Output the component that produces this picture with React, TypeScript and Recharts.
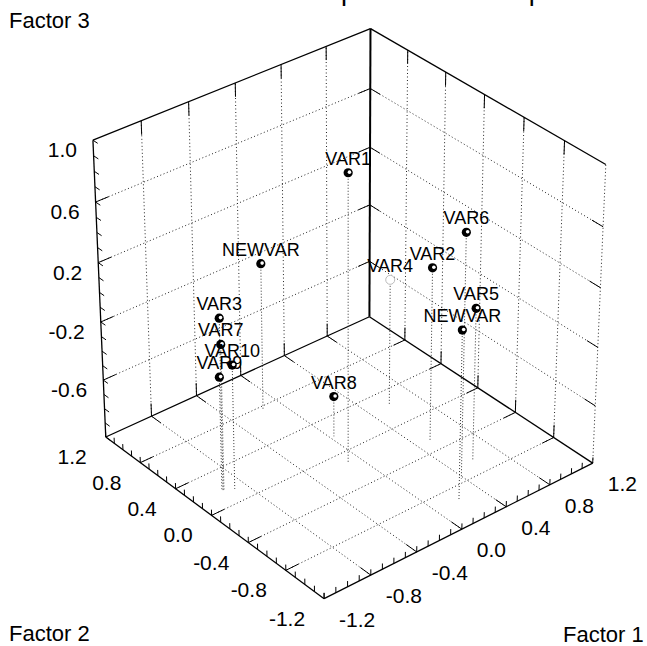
import React from 'react';
import { ScatterChart, Scatter, XAxis, YAxis, ReferenceLine } from 'recharts';

const TITLE = 'Rotation of Components in 3D space';

// loadings of each variable on the three factors
const variables = ['VAR1', 'VAR2', 'VAR3', 'VAR4', 'VAR5', 'VAR6', 'VAR7', 'VAR8', 'VAR9', 'VAR10', 'NEWVAR', 'NEWVAR'];
const factor1 = [-0.09, 0.51, -0.96, 0.57, 0.59, 0.38, -0.96, 0.03, -0.97, -0.89, -0.14, 0.21];
const factor2 = [-0.11, -0.28, 0.18, 0.23, -0.64, -0.76, 0.17, 0.19, 0.18, 0.14, 0.77, -0.93];
const factor3 = [0.94, 0.19, 0.17, -0.12, 0.04, 0.66, 0.0, -0.72, -0.22, -0.15, 0.01, 0.15];
const faded = ['VAR4'];

// axis ranges, labelled ticks and grid positions
const F1_RANGE = [-1.2, 1.2];
const F2_RANGE = [-1.2, 1.2];
const F3_RANGE = [-1.0, 1.0];
const F1_TICKS = [-1.2, -0.8, -0.4, 0.0, 0.4, 0.8, 1.2];
const F2_TICKS = [-1.2, -0.8, -0.4, 0.0, 0.4, 0.8, 1.2];
const F3_TICKS = [-0.6, -0.2, 0.2, 0.6, 1.0];
const F1_GRID = [-0.8, -0.4, 0.0, 0.4, 0.8];
const F2_GRID = [-0.8, -0.4, 0.0, 0.4, 0.8];
const F3_GRID = [-0.6, -0.2, 0.2, 0.6];
const MINOR_STEP = 0.1;

const W = 647;
const H = 646;
const FONT = '"Liberation Sans", Arial, sans-serif';

// camera: turned about the vertical axis, tilted down, mild perspective
const VIEW = { azimuth: 50.3, elevation: 33, distance: 21, focal: 3725, cx: 348, cy: 305 };
const rad = Math.PI / 180;
const sa = Math.sin(VIEW.azimuth * rad);
const ca = Math.cos(VIEW.azimuth * rad);
const se = Math.sin(VIEW.elevation * rad);
const ce = Math.cos(VIEW.elevation * rad);

const norm = (t: number, r: number[]) => ((t - r[0]) / (r[1] - r[0])) * 2 - 1;

type P3 = [number, number, number];

function project(x: number, y: number, z: number) {
  const u = norm(x, F1_RANGE);
  const v = norm(y, F2_RANGE);
  const w = norm(z, F3_RANGE);
  const across = sa * u - ca * v;
  const depth = ca * u + sa * v;
  const up = depth * se + w * ce;
  const dist = VIEW.distance + depth * ce - w * se;
  return { px: across / dist, py: up / dist };
}

// view-plane window that fills the chart area
const X_DOMAIN = [-VIEW.cx / VIEW.focal, (W - VIEW.cx) / VIEW.focal];
const Y_DOMAIN = [(VIEW.cy - H) / VIEW.focal, VIEW.cy / VIEW.focal];

const [x0, x1] = F1_RANGE;
const [y0, y1] = F2_RANGE;
const [z0, z1] = F3_RANGE;

type Seg = { a: P3; b: P3; kind: 'edge' | 'back' | 'grid' | 'tick' | 'drop' };
const segments: Seg[] = [];

const lerp = (a: P3, b: P3, t: number): P3 => [
  a[0] + (b[0] - a[0]) * t,
  a[1] + (b[1] - a[1]) * t,
  a[2] + (b[2] - a[2]) * t,
];

// dotted grid line with short solid stubs where it meets the box
function gridLine(a: P3, b: P3) {
  segments.push({ a, b, kind: 'grid' });
  segments.push({ a, b: lerp(a, b, 0.045), kind: 'tick' });
  segments.push({ a: b, b: lerp(b, a, 0.045), kind: 'tick' });
}

// floor
F1_GRID.forEach((g) => gridLine([g, y0, z0], [g, y1, z0]));
F2_GRID.forEach((g) => gridLine([x0, g, z0], [x1, g, z0]));
// back-left wall (Factor 2 at max)
F1_GRID.forEach((g) => gridLine([g, y1, z0], [g, y1, z1]));
F3_GRID.forEach((g) => gridLine([x0, y1, g], [x1, y1, g]));
// back-right wall (Factor 1 at max)
F2_GRID.forEach((g) => gridLine([x1, g, z0], [x1, g, z1]));
F3_GRID.forEach((g) => gridLine([x1, y0, g], [x1, y1, g]));
segments.push({ a: [x1, y0, z0], b: [x1, y0, z1], kind: 'grid' });

// box edges
segments.push({ a: [x0, y0, z0], b: [x1, y0, z0], kind: 'edge' });
segments.push({ a: [x0, y0, z0], b: [x0, y1, z0], kind: 'edge' });
segments.push({ a: [x0, y1, z0], b: [x1, y1, z0], kind: 'edge' });
segments.push({ a: [x1, y1, z0], b: [x1, y0, z0], kind: 'edge' });
segments.push({ a: [x0, y1, z0], b: [x0, y1, z1], kind: 'edge' });
segments.push({ a: [x0, y1, z1], b: [x1, y1, z1], kind: 'edge' });
segments.push({ a: [x1, y1, z1], b: [x1, y0, z1], kind: 'edge' });
segments.push({ a: [x1, y1, z0], b: [x1, y1, z1], kind: 'back' });

// minor ticks on the three labelled axes
const zLen = (z1 - z0) * 0.02;
for (let t = x0; t <= x1 + 1e-9; t += MINOR_STEP) {
  segments.push({ a: [t, y0, z0], b: [t, y0, z0 + zLen], kind: 'tick' });
}
for (let t = y0; t <= y1 + 1e-9; t += MINOR_STEP) {
  segments.push({ a: [x0, t, z0], b: [x0, t, z0 + zLen], kind: 'tick' });
}
for (let t = z0; t <= z1 + 1e-9; t += MINOR_STEP) {
  segments.push({ a: [x0, y1, t], b: [x0, y1 - (y1 - y0) * 0.022, t], kind: 'tick' });
}

// drop lines from each variable down to the floor
variables.forEach((_, i) => {
  segments.push({ a: [factor1[i], factor2[i], factor3[i]], b: [factor1[i], factor2[i], z0], kind: 'drop' });
});

const segStyle = (kind: Seg['kind']) => {
  switch (kind) {
    case 'edge':
      return { stroke: '#000', strokeWidth: 1.3 };
    case 'back':
      return { stroke: '#000', strokeWidth: 2 };
    case 'tick':
      return { stroke: '#000', strokeWidth: 1 };
    case 'drop':
      return { stroke: '#333', strokeWidth: 1, strokeDasharray: '1 2' };
    default:
      return { stroke: '#222', strokeWidth: 1, strokeDasharray: '1 2.5' };
  }
};

const points = variables.map((name, i) => ({ name, ...project(factor1[i], factor2[i], factor3[i]) }));

const f1Labels = F1_TICKS.map((t) => ({ text: t.toFixed(1), ...project(t, y0, z0) }));
const f2Labels = F2_TICKS.map((t) => ({ text: t.toFixed(1), ...project(x0, t, z0) }));
const f3Labels = F3_TICKS.map((t) => ({ text: t.toFixed(1), ...project(x0, y1, t) }));

const tickText = (dx: number, dy: number, anchor: 'start' | 'end') => (props: any) => (
  <text
    x={props.cx + dx}
    y={props.cy + dy}
    textAnchor={anchor}
    fontSize={21}
    fontFamily={FONT}
    fill="#000"
  >
    {props.payload.text}
  </text>
);

const Marker = (props: any) => {
  const { cx, cy, payload } = props;
  const dim = faded.includes(payload.name);
  return (
    <g>
      {dim ? (
        <circle cx={cx} cy={cy} r={4.5} fill="#fff" stroke="#bbb" strokeWidth={1} />
      ) : (
        <>
          <circle cx={cx} cy={cy} r={4.6} fill="#000" />
          <circle cx={cx + 1.3} cy={cy - 0.6} r={1.8} fill="#fff" />
        </>
      )}
      <text x={cx} y={cy - 8} textAnchor="middle" fontSize={18} fontFamily={FONT} fill="#000">
        {payload.name}
      </text>
    </g>
  );
};

export default function App() {
  return (
    <div style={{ position: 'absolute', left: 0, top: 0, width: W, height: H, background: '#fff' }}>
      <ScatterChart width={W} height={H} margin={{ top: 0, right: 0, bottom: 0, left: 0 }}>
        <XAxis type="number" dataKey="px" domain={X_DOMAIN} allowDataOverflow hide />
        <YAxis type="number" dataKey="py" domain={Y_DOMAIN} allowDataOverflow hide />
        {segments.map((s, i) => {
          const p = project(...s.a);
          const q = project(...s.b);
          return (
            <ReferenceLine
              key={i}
              segment={[
                { x: p.px, y: p.py },
                { x: q.px, y: q.py },
              ]}
              ifOverflow="visible"
              {...segStyle(s.kind)}
            />
          );
        })}
        <Scatter data={f1Labels} shape={tickText(15, 28, 'start')} isAnimationActive={false} />
        <Scatter data={f2Labels} shape={tickText(-19, 27, 'end')} isAnimationActive={false} />
        <Scatter data={f3Labels} shape={tickText(-16, 17, 'end')} isAnimationActive={false} />
        <Scatter data={points} shape={Marker} isAnimationActive={false} />
      </ScatterChart>
      <svg
        width={W}
        height={H}
        style={{ position: 'absolute', left: 0, top: 0, pointerEvents: 'none' }}
      >
        <text x={146} y={0} fontSize={27} fontFamily={FONT} fill="#000">
          {TITLE}
        </text>
        <text x={9} y={28} fontSize={22} fontFamily={FONT} fill="#000">
          Factor 3
        </text>
        <text x={9} y={641} fontSize={22} fontFamily={FONT} fill="#000">
          Factor 2
        </text>
        <text x={563} y={642} fontSize={22} fontFamily={FONT} fill="#000">
          Factor 1
        </text>
      </svg>
    </div>
  );
}
